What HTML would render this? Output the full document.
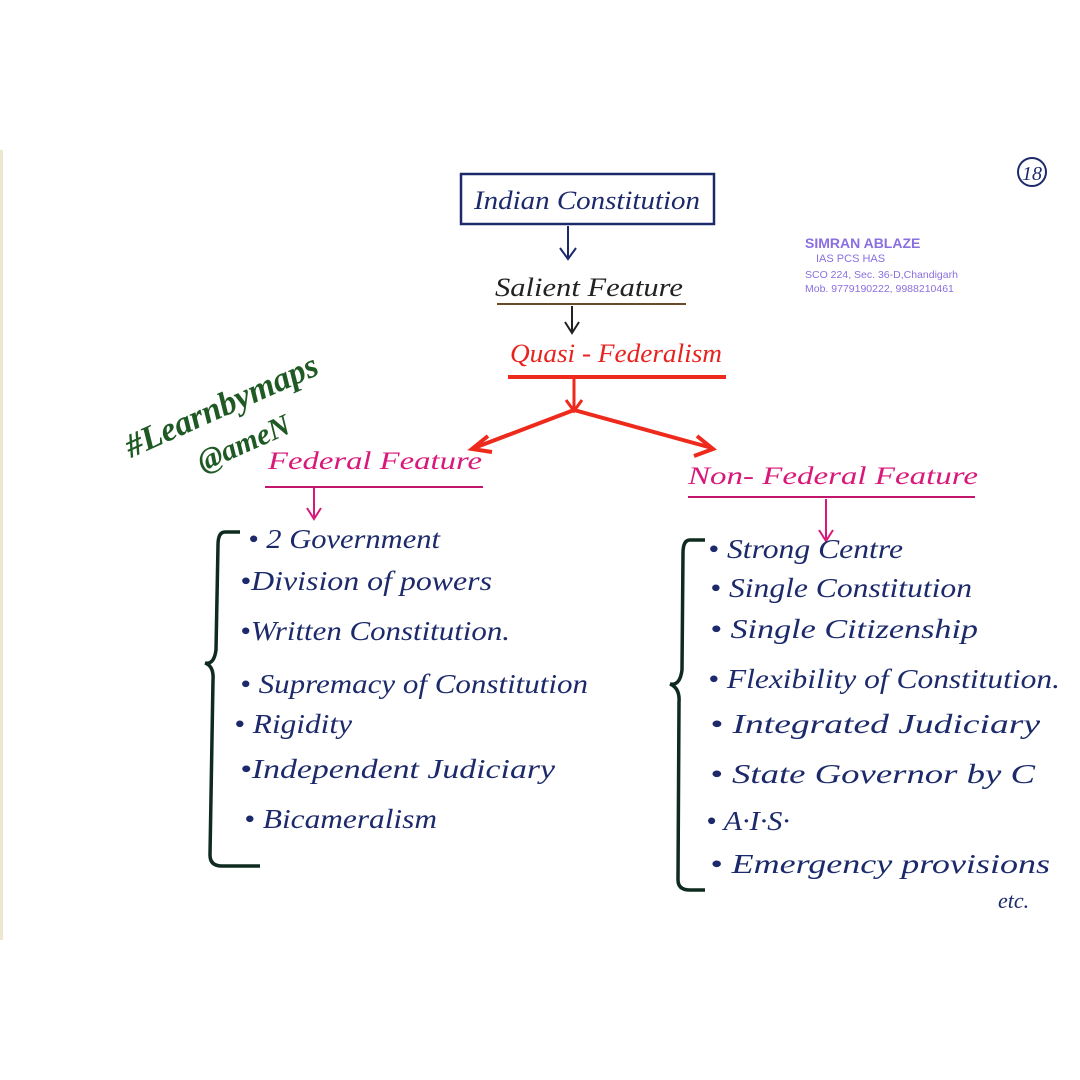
<!DOCTYPE html>
<html><head><meta charset="utf-8"><style>
html,body{margin:0;padding:0;background:#fff;}
svg{display:block;}
text{font-family:"Liberation Serif",serif;font-style:italic;}
</style></head><body>
<svg width="1080" height="1080" viewBox="0 0 1080 1080" xmlns="http://www.w3.org/2000/svg">
<rect width="1080" height="1080" fill="#ffffff"/>
<rect x="0" y="150" width="3" height="790" fill="#efe6cf"/>
<rect x="461" y="174" width="253" height="50" fill="none" stroke="#1c2a6b" stroke-width="2.5"/>
<text x="474" y="209" font-size="26" fill="#1c2a6b" textLength="226" lengthAdjust="spacingAndGlyphs">Indian  Constitution</text>
<path d="M568,226 L568,258 M560,248 L568,259 L576,248" stroke="#1c2a6b" stroke-width="2" fill="none"/>
<text x="495" y="296" font-size="26" fill="#222" textLength="188" lengthAdjust="spacingAndGlyphs">Salient  Feature</text>
<line x1="497" y1="304" x2="686" y2="304" stroke="#6b4a2a" stroke-width="2"/>
<path d="M572,306 L572,332 M565,322 L572,333 L579,322" stroke="#222" stroke-width="2" fill="none"/>
<text x="510" y="362" font-size="26" fill="#e8231f" textLength="212" lengthAdjust="spacingAndGlyphs">Quasi - Federalism</text>
<line x1="508" y1="377" x2="726" y2="377" stroke="#ee2a1c" stroke-width="4"/>
<path d="M574,378 L574,410 M566,400 L574,411 L582,400" stroke="#ee2a1c" stroke-width="3" fill="none"/>
<path d="M574,410 L474,448 M574,410 L712,448" stroke="#ee2a1c" stroke-width="4" fill="none"/>
<path d="M488,436 L472,449 L492,452 M697,436 L713,449 L694,456" stroke="#ee2a1c" stroke-width="4" fill="none"/>
<text x="268" y="469" font-size="25" fill="#d8197a" textLength="214" lengthAdjust="spacingAndGlyphs">Federal   Feature</text>
<line x1="265" y1="487" x2="483" y2="487" stroke="#c3176e" stroke-width="2"/>
<path d="M314,488 L314,518 M307,508 L314,519 L321,508" stroke="#d8197a" stroke-width="2" fill="none"/>
<text x="688" y="484" font-size="25" fill="#d8197a" textLength="290" lengthAdjust="spacingAndGlyphs">Non- Federal  Feature</text>
<line x1="688" y1="497" x2="975" y2="497" stroke="#c3176e" stroke-width="2"/>
<path d="M826,499 L826,540 M819,530 L826,541 L833,530" stroke="#d8197a" stroke-width="2" fill="none"/>
<path d="M240,532 L225,532 Q218,532 218,545 L216,650 Q214,665 205,663 Q214,666 213,680 L210,855 Q210,866 222,866 L260,866" stroke="#0f2a1f" stroke-width="3.5" fill="none"/>
<path d="M705,540 L690,540 Q683,540 683,553 L682,670 Q680,686 670,684 Q680,688 679,702 L678,880 Q678,890 690,890 L705,890" stroke="#0f2a1f" stroke-width="3.5" fill="none"/>
<g font-size="27" fill="#1c2a6b">
<text x="248" y="548" textLength="192" lengthAdjust="spacingAndGlyphs">• 2  Government</text>
<text x="240" y="590" textLength="252" lengthAdjust="spacingAndGlyphs">•Division  of  powers</text>
<text x="240" y="640" textLength="270" lengthAdjust="spacingAndGlyphs">•Written  Constitution.</text>
<text x="240" y="693" textLength="348" lengthAdjust="spacingAndGlyphs">• Supremacy  of  Constitution</text>
<text x="234" y="733" textLength="118" lengthAdjust="spacingAndGlyphs">• Rigidity</text>
<text x="240" y="778" textLength="315" lengthAdjust="spacingAndGlyphs">•Independent  Judiciary</text>
<text x="244" y="828" textLength="193" lengthAdjust="spacingAndGlyphs">• Bicameralism</text>
</g>
<g font-size="27" fill="#1c2a6b">
<text x="708" y="558" textLength="195" lengthAdjust="spacingAndGlyphs">• Strong  Centre</text>
<text x="710" y="597" textLength="262" lengthAdjust="spacingAndGlyphs">• Single   Constitution</text>
<text x="710" y="638" textLength="268" lengthAdjust="spacingAndGlyphs">• Single   Citizenship</text>
<text x="708" y="688" textLength="352" lengthAdjust="spacingAndGlyphs">• Flexibility  of  Constitution.</text>
<text x="710" y="733" textLength="330" lengthAdjust="spacingAndGlyphs">• Integrated  Judiciary</text>
<text x="710" y="783" textLength="325" lengthAdjust="spacingAndGlyphs">• State  Governor  by  C</text>
<text x="706" y="830" textLength="84" lengthAdjust="spacingAndGlyphs">• A·I·S·</text>
<text x="710" y="873" textLength="340" lengthAdjust="spacingAndGlyphs">• Emergency   provisions</text>
<text x="998" y="908" font-size="22">etc.</text>
</g>
<g fill="#8a6fe0">
<text x="805" y="248" font-size="14" font-weight="bold" style="font-family:'Liberation Sans',sans-serif;font-style:normal">SIMRAN ABLAZE</text>
<text x="816" y="262" font-size="11" style="font-family:'Liberation Sans',sans-serif;font-style:normal">IAS PCS HAS</text>
<text x="805" y="278" font-size="10.5" style="font-family:'Liberation Sans',sans-serif;font-style:normal">SCO 224, Sec. 36-D,Chandigarh</text>
<text x="805" y="292" font-size="10.5" style="font-family:'Liberation Sans',sans-serif;font-style:normal">Mob. 9779190222, 9988210461</text>
</g>
<circle cx="1032" cy="172" r="14" fill="none" stroke="#1c2a6b" stroke-width="2"/>
<text x="1022" y="180" font-size="20" fill="#1c2a6b">18</text>
<g transform="rotate(-24 210 390)" fill="#1f5a24">
<text x="110" y="420" font-size="34" font-weight="bold">#Learnbymaps</text>
<text x="170" y="462" font-size="30" font-weight="bold">@ameN</text>
</g>
</svg>
</body></html>
